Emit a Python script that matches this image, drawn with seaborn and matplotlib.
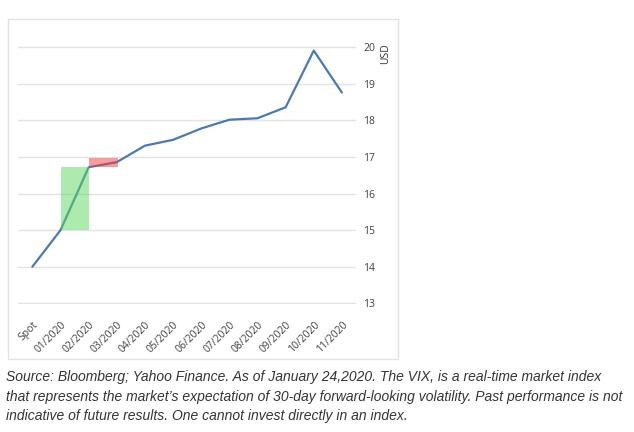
import matplotlib
matplotlib.use("Agg")
import matplotlib.pyplot as plt
import matplotlib.patches as mpatches
import seaborn as sns
import pandas as pd

months = ["Spot", "01/2020", "02/2020", "03/2020", "04/2020", "05/2020", "06/2020",
          "07/2020", "08/2020", "09/2020", "10/2020", "11/2020"]
vix = [14.0, 15.0, 16.72, 16.86, 17.31, 17.47, 17.78, 18.02, 18.06, 18.36, 19.91, 18.76]
yticks = [13, 14, 15, 16, 17, 18, 19, 20]

# shaded boxes: (x start, x end, y low, y high)
green_box = (1, 2, 15.0, 16.72)
red_box = (2, 3.05, 16.72, 16.97)

caption = ("Source: Bloomberg; Yahoo Finance. As of January 24,2020. The VIX, is a real-time market index\n"
           "that represents the market\u2019s expectation of 30-day forward-looking volatility. Past performance is not\n"
           "indicative of future results. One cannot invest directly in an index.")

sns.set_style("white")
plt.rcParams['font.family'] = ['Open Sans', 'DejaVu Sans']

df = pd.DataFrame({"month": months, "vix": vix})

fig = plt.figure(figsize=(6.34, 4.32), dpi=100)
ax = fig.add_axes([18.3 / 634, 1 - 304.4 / 432, (356 - 18.3) / 634, 258.2 / 432])

# outer light frame around the chart
fig.patches.append(mpatches.Rectangle((8 / 634, 1 - 359 / 432), 390 / 634, 340 / 432,
                                      transform=fig.transFigure, fill=False,
                                      edgecolor="#e3e3e3", linewidth=1))

sns.lineplot(data=df, x="month", y="vix", sort=False, color="#4a7ab3", linewidth=1.6, ax=ax)

for box, col in [(green_box, "#5cd65c"), (red_box, "#f03c3c")]:
    x0, x1, y0, y1 = box
    ax.add_patch(mpatches.Rectangle((x0, y0), x1 - x0, y1 - y0, facecolor=col,
                                    alpha=0.5, edgecolor="none", zorder=3))

ax.set_xlim(-0.5, 11.5)
ax.set_ylim(12.97, 20.03)
ax.set_yticks(yticks)
ax.yaxis.tick_right()
ax.yaxis.grid(True, color="#e3e3e3", linewidth=1)
ax.set_axisbelow(True)
for s in ax.spines.values():
    s.set_visible(False)
ax.tick_params(axis="y", length=0, pad=5, labelsize=7.5, labelcolor="#404040")
ax.tick_params(axis="x", length=0, pad=11, labelsize=7.5, labelcolor="#404040")
plt.setp(ax.get_xticklabels(), rotation=45, ha="right", rotation_mode="anchor")
ax.set_xlabel("")
ax.set_ylabel("")
fig.text(386 / 634, 1 - 54 / 432, "USD", rotation=90, ha="center", va="center",
         fontsize=7.5, color="#333333")

fig.text(6 / 634, 1 - 370 / 432, caption, ha="left", va="top", fontsize=10,
         style="italic", family=["Liberation Sans", "DejaVu Sans"], color="#333333",
         linespacing=1.5)

fig.savefig("out.png", dpi=100)
